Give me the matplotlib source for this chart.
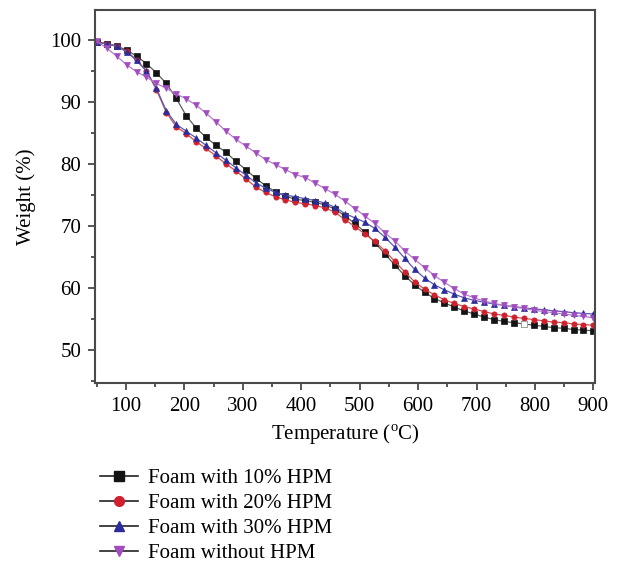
#!/usr/bin/env python3
"""TGA curves of foams with different HPM content."""

import matplotlib
matplotlib.use('Agg')
import matplotlib.pyplot as plt
from matplotlib.ticker import MultipleLocator

# Temperature grid (deg C) and weight (%)
TEMP = [50, 67, 84, 101, 118, 135, 152, 169, 186, 203,
        220, 237, 254, 271, 288, 305, 322, 339, 356, 373,
        390, 407, 424, 441, 458, 475, 492, 509, 526, 543,
        560, 577, 594, 611, 628, 645, 662, 679, 696, 713,
        730, 747, 764, 781, 798, 815, 832, 849, 866, 883, 900]

hpm10 = [99.7, 99.4, 99.0, 98.4, 97.4, 96.2, 94.7, 93.0, 90.6, 87.8,
         85.8, 84.3, 83.0, 81.9, 80.4, 79.1, 77.7, 76.5, 75.5, 74.8,
         74.3, 74.1, 73.8, 73.4, 72.7, 71.6, 70.4, 69.0, 67.3, 65.5,
         63.7, 62.0, 60.5, 59.3, 58.3, 57.6, 56.9, 56.3, 55.8, 55.3,
         54.9, 54.6, 54.4, 54.2, 54.0, 53.8, 53.6, 53.5, 53.3, 53.2, 53.1]

hpm20 = [99.6, 99.4, 99.0, 98.2, 96.8, 95.0, 92.0, 88.3, 86.0, 84.9,
         83.6, 82.5, 81.3, 80.0, 78.9, 77.6, 76.3, 75.4, 74.7, 74.2,
         73.8, 73.6, 73.3, 72.9, 72.2, 71.0, 69.9, 68.7, 67.5, 66.0,
         64.3, 62.6, 61.0, 59.8, 58.9, 58.1, 57.5, 57.0, 56.6, 56.2,
         55.8, 55.6, 55.3, 55.1, 54.9, 54.7, 54.5, 54.4, 54.2, 54.1, 54.0]

hpm30 = [99.6, 99.4, 99.0, 98.1, 96.7, 95.0, 92.2, 88.6, 86.4, 85.3,
         84.2, 83.0, 81.8, 80.6, 79.4, 78.2, 77.0, 76.1, 75.4, 75.0,
         74.7, 74.4, 74.1, 73.7, 73.0, 72.0, 71.3, 70.6, 69.6, 68.2,
         66.6, 64.8, 63.0, 61.6, 60.5, 59.7, 59.0, 58.4, 58.0, 57.7,
         57.4, 57.2, 57.0, 56.8, 56.6, 56.5, 56.3, 56.2, 56.0, 55.9, 55.8]

no_hpm = [99.8, 98.7, 97.4, 96.0, 94.9, 94.0, 93.0, 92.2, 91.3, 90.5,
          89.5, 88.2, 86.8, 85.3, 84.0, 82.9, 81.8, 80.7, 79.9, 79.1,
          78.3, 77.8, 76.9, 76.0, 75.1, 74.0, 72.8, 71.6, 70.4, 68.9,
          67.6, 66.0, 64.6, 63.3, 62.0, 60.9, 59.9, 59.0, 58.4, 57.9,
          57.5, 57.2, 56.9, 56.7, 56.4, 56.2, 56.0, 55.8, 55.6, 55.4, 55.2]

LABELS = ['Foam with 10% HPM', 'Foam with 20% HPM',
          'Foam with 30% HPM', 'Foam without HPM']

plt.rcParams['font.family'] = ['Liberation Serif', 'DejaVu Serif']
plt.rcParams['mathtext.fontset'] = 'custom'
plt.rcParams['mathtext.rm'] = 'Liberation Serif'

fig = plt.figure(figsize=(6.19, 5.68), dpi=100)
ax = fig.add_axes([0.1535, 0.326, 0.808, 0.656])

styles = [
    (hpm10, 's', '#141414', '#556055'),
    (hpm20, 'o', '#d0202e', '#d05050'),
    (hpm30, '^', '#2c2c9c', '#5a5ab0'),
    (no_hpm, 'v', '#a24cc0', '#b67ccc'),
]
for (vals, mk, mcol, lcol), label in zip(styles, LABELS):
    ax.plot(TEMP, vals, color=lcol, linewidth=0.9, marker=mk,
            markersize=3.8, markerfacecolor=mcol, markeredgecolor=mcol,
            markeredgewidth=0.5, label=label)

# one hollow point on the 10% curve
ax.plot(TEMP[43], hpm10[43], 's', markersize=3.8, markerfacecolor='white',
        markeredgecolor='#aaaaaa', markeredgewidth=0.5)

ax.set_xlim(47, 903)
ax.set_ylim(44.7, 104.8)
ax.xaxis.set_major_locator(MultipleLocator(100))
ax.xaxis.set_minor_locator(MultipleLocator(50))
ax.yaxis.set_major_locator(MultipleLocator(10))
ax.yaxis.set_minor_locator(MultipleLocator(5))
ax.set_xticks(range(100, 901, 100))
ax.set_yticks(range(50, 101, 10))

ax.tick_params(which='both', direction='out', color='#3a3a3a', width=1.2,
               labelsize=15, top=False, right=False)
ax.tick_params(which='major', length=5, pad=5)
ax.tick_params(which='minor', length=3)
for sp in ax.spines.values():
    sp.set_color('#4a4a4a')
    sp.set_linewidth(1.5)

ax.set_xlabel('Temperature ($^\\mathregular{o}$C)', fontsize=15, labelpad=5)
ax.set_ylabel('Weight (%)', fontsize=15, labelpad=10)

# legend handles: dark line with coloured marker
handles = []
for (vals, mk, mcol, lcol), label in zip(styles, LABELS):
    h, = ax.plot([], [], color='#222222', linewidth=1.2, marker=mk,
                 markersize=7, markerfacecolor=mcol, markeredgecolor=mcol,
                 label=label)
    handles.append(h)

fig.legend(handles=handles, labels=LABELS, loc='upper left',
           bbox_to_anchor=(0.162, 0.175), frameon=False, fontsize=15,
           handlelength=1.8, handletextpad=0.5, labelspacing=0.26,
           borderaxespad=0, borderpad=0)

plt.savefig('out.png', dpi=100)
plt.close()
